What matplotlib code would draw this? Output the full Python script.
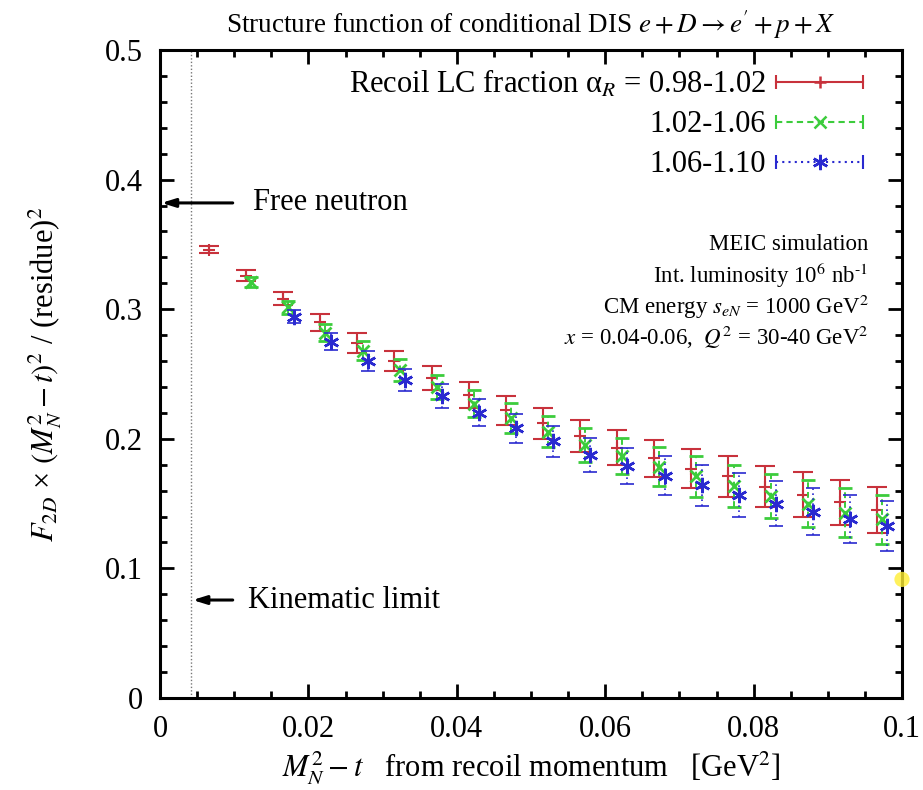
import matplotlib
matplotlib.use("Agg")
import matplotlib.pyplot as plt
from matplotlib.lines import Line2D
from matplotlib.legend_handler import HandlerLine2D, HandlerTuple
from matplotlib.ticker import MultipleLocator, FuncFormatter

plt.rcParams['font.family'] = ['Liberation Serif', 'DejaVu Serif']
plt.rcParams['mathtext.fontset'] = 'stix'

# ---- data ----
x_red = [0.0066, 0.0116, 0.0166, 0.0216, 0.0266, 0.0316, 0.0366, 0.0416, 0.0466, 0.0516,
         0.0566, 0.0616, 0.0666, 0.0716, 0.0766, 0.0816, 0.0866, 0.0916, 0.0966]
y_red = [0.346, 0.326, 0.308, 0.290, 0.274, 0.260, 0.247, 0.234, 0.222, 0.212,
         0.202, 0.193, 0.185, 0.177, 0.171, 0.163, 0.157, 0.151, 0.145]
e_red = [0.003, 0.004, 0.005, 0.0065, 0.0075, 0.008, 0.009, 0.010, 0.011, 0.0118,
         0.0124, 0.0135, 0.0144, 0.015, 0.0157, 0.016, 0.017, 0.0175, 0.018]

x_green = [0.0123, 0.0173, 0.0223, 0.0273, 0.0323, 0.0373, 0.0423, 0.0473, 0.0523,
           0.0573, 0.0623, 0.0673, 0.0723, 0.0773, 0.0823, 0.0873, 0.0923, 0.0973]
y_green = [0.321, 0.3015, 0.282, 0.268, 0.253, 0.240, 0.227, 0.216, 0.2055,
           0.195, 0.187, 0.1785, 0.171, 0.1636, 0.156, 0.150, 0.143, 0.138]
e_green = [0.004, 0.005, 0.0065, 0.0075, 0.0085, 0.0095, 0.0105, 0.0115, 0.012,
           0.013, 0.014, 0.015, 0.016, 0.0165, 0.017, 0.018, 0.019, 0.019]

x_blue = [0.0180, 0.0230, 0.0280, 0.0330, 0.0380, 0.0430, 0.0480, 0.0530, 0.0580,
          0.0630, 0.0680, 0.0730, 0.0780, 0.0830, 0.0880, 0.0930, 0.0980]
y_blue = [0.294, 0.275, 0.260, 0.2454, 0.233, 0.220, 0.208, 0.198, 0.1875,
          0.179, 0.1715, 0.164, 0.1566, 0.150, 0.1437, 0.138, 0.1327]
e_blue = [0.005, 0.0065, 0.0075, 0.0085, 0.0095, 0.0105, 0.0115, 0.012, 0.013,
          0.014, 0.015, 0.016, 0.017, 0.0175, 0.018, 0.0185, 0.019]

labels = ["Recoil LC fraction α$_R$ = 0.98-1.02", "1.02-1.06", "1.06-1.10"]

x_ticks = [0, 0.02, 0.04, 0.06, 0.08, 0.1]
y_ticks = [0, 0.1, 0.2, 0.3, 0.4, 0.5]

kin_limit = 0.0042
free_neutron = 0.382
kin_arrow_y = 0.0756
yellow_x = [0.1]
yellow_y = [0.0915]

info_lines = ["MEIC simulation",
              r"Int. luminosity 10$^6$ nb$^{\text{-}1}$",
              r"CM energy $s_{eN}$ = 1000 GeV$^2$",
              r"$x$ = 0.04-0.06,  $Q^2$ = 30-40 GeV$^2$"]

# ---- styling ----
c_red = '#c8323c'
c_green = '#3ccc3c'
c_blue = '#2a2ad0'

fig = plt.figure(figsize=(9.23, 7.90), dpi=100)
ax = fig.add_axes([160/923, 1-698/790, 742/923, 648/790])

eb_r = ax.errorbar(x_red, y_red, yerr=e_red, fmt='+', color=c_red, ms=9, mew=1.5,
                   elinewidth=1.5, capsize=7, capthick=1.5, zorder=3)
eb_g = ax.errorbar(x_green, y_green, yerr=e_green, fmt='x', color=c_green, ms=8, mew=2,
                   elinewidth=1.4, capsize=5, capthick=1.2, zorder=4)
eb_g[2][0].set_linestyle((0, (3, 2)))
eb_b = ax.errorbar(x_blue, y_blue, yerr=e_blue, fmt='none', color=c_blue,
                   elinewidth=1.2, capsize=5, capthick=1.2, zorder=5)
eb_b[2][0].set_linestyle((0, (1, 2)))
ax.plot(x_blue, y_blue, linestyle='none', marker=(6, 2, 0), ms=11, mew=1.8,
        color=c_blue, zorder=6)

ax.scatter(yellow_x, yellow_y, s=120, color='#ffee33', alpha=0.8, clip_on=False,
           zorder=10, edgecolors='none')

ax.axvline(kin_limit, color='#777777', lw=1.0, linestyle=(0, (1, 1.5)), zorder=1)

ax.annotate("", xy=(0.0002, free_neutron), xytext=(0.0098, free_neutron),
            arrowprops=dict(arrowstyle='-|>,head_length=0.8,head_width=0.25',
                            color='black', lw=2.2, shrinkA=0, shrinkB=0))
ax.text(0.0125, free_neutron, "Free neutron", fontsize=22, va='center', ha='left')
ax.annotate("", xy=(kin_limit + 0.0002, kin_arrow_y), xytext=(0.0098, kin_arrow_y),
            arrowprops=dict(arrowstyle='-|>,head_length=0.8,head_width=0.25',
                            color='black', lw=2.2, shrinkA=0, shrinkB=0))
ax.text(0.0118, kin_arrow_y, "Kinematic limit", fontsize=22, va='center', ha='left')

info_y = [0.350, 0.326, 0.302, 0.278]
for txt, yy in zip(info_lines, info_y):
    ax.text(0.0955, yy, txt, fontsize=16.5, ha='right', va='center')

# legend mimicking gnuplot error-bar keys
caps = []
cent = []
for col, ls, mk, ms in [(c_red, '-', '+', 9), (c_green, (0, (3, 2)), 'x', 8),
                        (c_blue, (0, (1, 2)), (6, 2, 0), 11)]:
    caps.append(Line2D([], [], color=col, linestyle=ls, lw=1.5, marker='|', ms=10, mew=1.5))
    cent.append(Line2D([], [], color=col, linestyle='none', marker=mk, ms=ms, mew=1.8))
hmap = {}
for c in caps:
    hmap[c] = HandlerLine2D(numpoints=2, marker_pad=0.0)
for c in cent:
    hmap[c] = HandlerLine2D(numpoints=1)
handles = [(caps[i], cent[i]) for i in range(3)]
leg = ax.legend(handles, labels, handler_map={**hmap, tuple: HandlerTuple(ndivide=1)},
                loc='upper right', bbox_to_anchor=(0.948, 0.972), frameon=False,
                markerfirst=False, fontsize=22, handlelength=2.85, handletextpad=0.35,
                labelspacing=0.36, borderpad=0, borderaxespad=0)

ax.set_xlim(0, 0.1)
ax.set_ylim(0, 0.5)
ax.set_xticks(x_ticks)
ax.set_yticks(y_ticks)
fmt = FuncFormatter(lambda v, p: "%g" % round(v, 3))
ax.xaxis.set_major_formatter(fmt)
ax.yaxis.set_major_formatter(fmt)
ax.xaxis.set_minor_locator(MultipleLocator(0.005))
ax.yaxis.set_minor_locator(MultipleLocator(0.02))
ax.tick_params(which='both', direction='in', top=True, right=True, labelsize=22, width=2)
ax.tick_params(which='major', length=10, pad=12)
ax.tick_params(which='minor', length=5)
for s in ax.spines.values():
    s.set_linewidth(2.2)

ax.set_title(r"Structure function of conditional DIS $e + D \rightarrow e' + p + X$",
             fontsize=19.5, pad=12)
ax.set_xlabel(r"$M_N^2 - t$   from recoil momentum   [GeV$^2$]", fontsize=22, labelpad=4)
ax.set_ylabel(r"$F_{2D}$ × $(M_N^2 - t)^2$ / (residue)$^2$", fontsize=22, labelpad=30)

fig.savefig("out.png", dpi=100)
